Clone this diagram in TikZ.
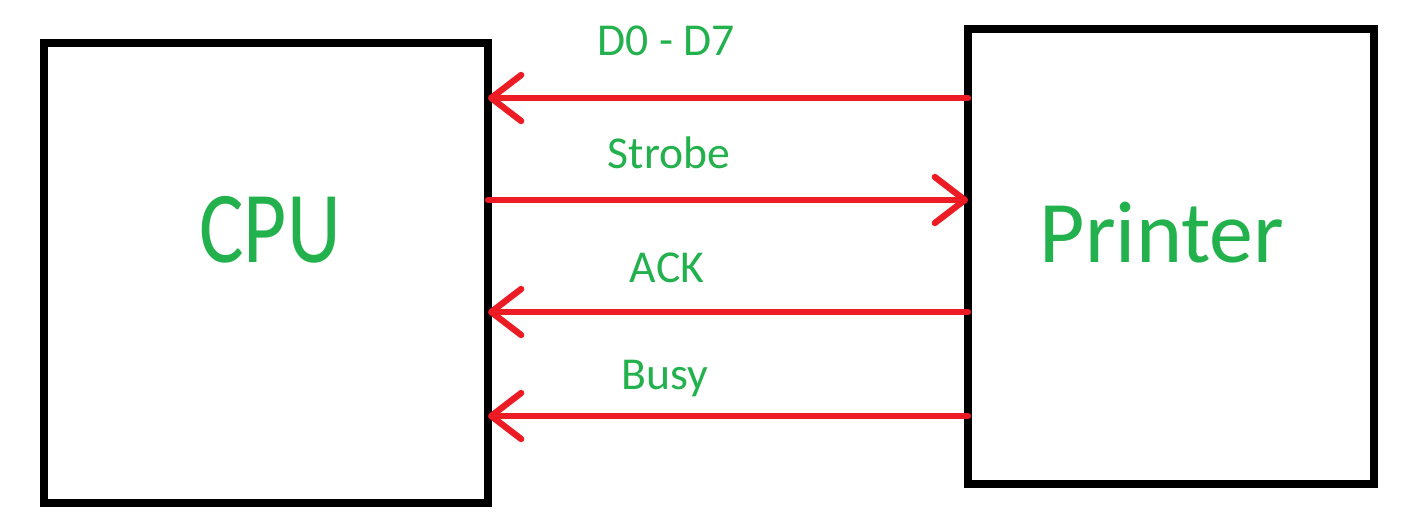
\documentclass[tikz,border=0pt]{standalone}
\usepackage{fontspec}
\setmainfont{Carlito}
\usepackage{tikz}
\usetikzlibrary{positioning}
\usetikzlibrary{arrows.meta}
\definecolor{paintgreen}{RGB}{34,177,76}
\definecolor{paintred}{RGB}{237,28,36}

\begin{document}
\begin{tikzpicture}[
  unit/.style={draw, line width=2.3pt, outer sep=0pt},
  sig/.style={draw=paintred, line width=1.8pt, line cap=round,
    -{Straight Barb[length=3mm, width=4.6mm, round]}},
  lbl/.style={anchor=base, text=paintgreen, font=\fontsize{13}{15}\selectfont}
]
\useasboundingbox (0,0) rectangle (14.08,-5.16);

\node[unit, minimum width=4.44cm, minimum height=4.6cm] (cpu) at (2.66,-2.73) {};
\node[unit, minimum width=4.06cm, minimum height=4.55cm] (printer) at (11.71,-2.565) {};

\node[anchor=base, text=paintgreen, font=\fontsize{29}{34}\selectfont, xscale=0.82] (cpuname) at (2.70,-2.62) {CPU};
\node[anchor=base, text=paintgreen, font=\fontsize{25}{30}\selectfont] (printername) at (11.62,-2.62) {Printer};

\draw[sig] (printer.west |- 0,-0.98) -- (cpu.east |- 0,-0.98);
\draw[sig] (cpu.east |- 0,-2.00) -- (printer.west |- 0,-2.00);
\draw[sig] (printer.west |- 0,-3.12) -- (cpu.east |- 0,-3.12);
\draw[sig] (printer.west |- 0,-4.16) -- (cpu.east |- 0,-4.16);

\node[lbl] (data) at (6.66,-0.55) {D0 - D7};
\node[lbl] (strobe) at (6.69,-1.68) {Strobe};
\node[lbl] (ack) at (6.67,-2.82) {ACK};
\node[lbl] (busy) at (6.65,-3.89) {Busy};
\end{tikzpicture}
\end{document}
